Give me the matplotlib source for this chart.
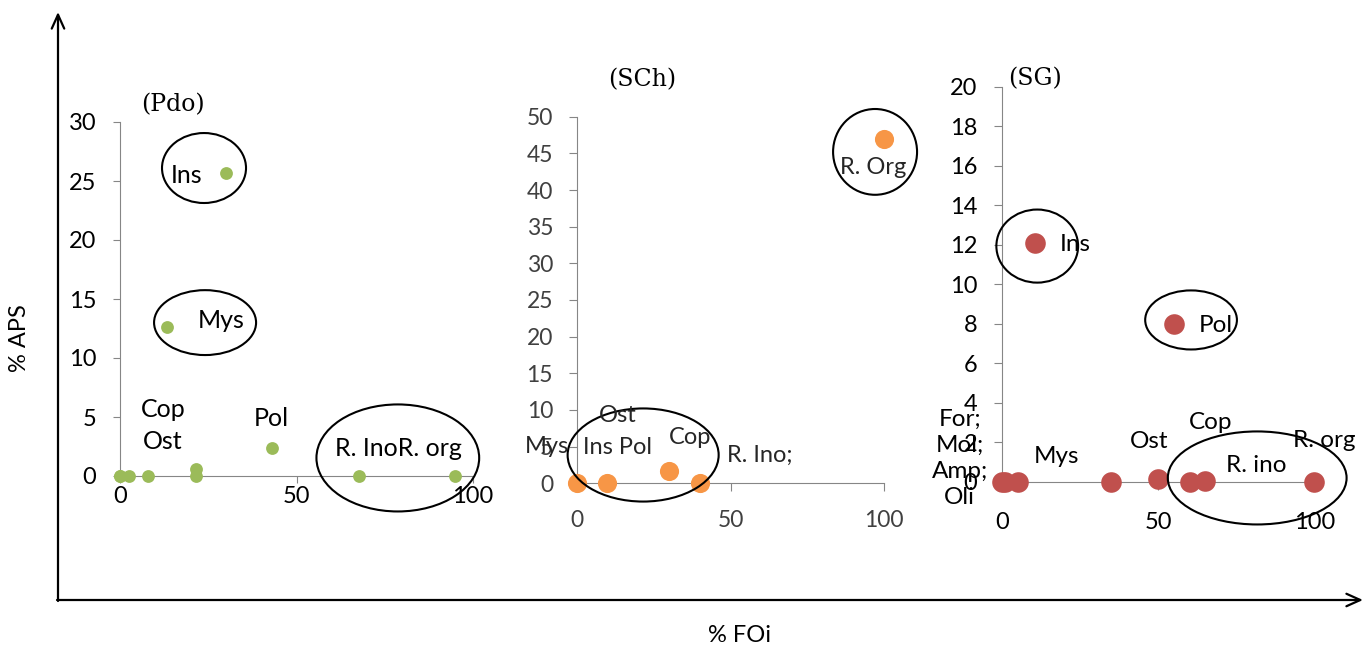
import matplotlib
matplotlib.use("Agg")
import matplotlib.pyplot as plt
from matplotlib.patches import Ellipse

W, H = 1366, 649

# ---------------- data ----------------
pdo_x = [0, 0, 2.6, 8, 21.5, 21.5, 43.2, 67.6, 94.8, 29.9, 13.4]
pdo_y = [0, 0, 0, 0, 0.6, 0, 2.4, 0, 0, 25.7, 12.6]
pdo_labels = ["Ins", "Mys", "Cop", "Ost", "Pol", "R. InoR. org"]

sch_x = [0, 10, 30, 40, 100]
sch_y = [0, 0, 1.7, 0, 47]
sch_labels = ["Mys", "Ost", "Ins Pol", "Cop", "R. Ino;", "R. Org"]

sg_x = [0, 1, 5, 35, 50, 60, 65, 100, 10.5, 55]
sg_y = [0, 0, 0, 0, 0.15, 0, 0.05, 0, 12.1, 8]
sg_labels = ["For;\nMol;\nAmp;\nOli", "Mys", "Ost", "Cop", "R. org", "R. ino", "Ins", "Pol"]

pdo_yticks = [0, 5, 10, 15, 20, 25, 30]
sch_yticks = [0, 5, 10, 15, 20, 25, 30, 35, 40, 45, 50]
sg_yticks = [0, 2, 4, 6, 8, 10, 12, 14, 16, 18, 20]
x_ticks = [0, 50, 100]

titles = ["(Pdo)", "(SCh)", "(SG)"]
xlabel = "% FOi"
ylabel = "% APS"

plt.rcParams['font.family'] = ['Lato', 'DejaVu Sans']

fig = plt.figure(figsize=(W / 100, H / 100), dpi=100)

# overlay for big arrows
ov = fig.add_axes([0, 0, 1, 1], zorder=0)
ov.set_xlim(0, W)
ov.set_ylim(H, 0)
ov.axis('off')
arrow_kw = dict(arrowstyle='->,head_length=1.0,head_width=0.45', lw=1.6, color='black',
                shrinkA=0, shrinkB=0)
ov.annotate('', xy=(58, 12), xytext=(58, 601), arrowprops=arrow_kw)
ov.annotate('', xy=(1363, 600), xytext=(57, 600), arrowprops=arrow_kw)
ov.text(20, 338, ylabel, rotation=90, ha='center', va='center', fontsize=17)
ov.text(740, 636, xlabel, ha='center', va='center', fontsize=17)


def px_axes(x0, x1, y0, y1):
    # x0,x1: pixel x of data 0 and max; y0: pixel y of 0, y1: pixel y of max
    return fig.add_axes([x0 / W, (H - y0) / H, (x1 - x0) / W, (y0 - y1) / H], zorder=2)


def style(ax, yt, ymax, tlen, ypad, xpad, tickcolor='black', fs=17):
    ax.set_xlim(0, 100)
    ax.set_ylim(0, ymax)
    ax.set_xticks(x_ticks)
    ax.set_yticks(yt)
    ax.patch.set_alpha(0)
    for s in ['top', 'right']:
        ax.spines[s].set_visible(False)
    for s in ['left', 'bottom']:
        ax.spines[s].set_color('#868686')
        ax.spines[s].set_linewidth(0.8)
    ax.tick_params(axis='both', direction='out', length=tlen, width=0.8,
                   color='#868686', labelsize=fs, labelcolor=tickcolor)
    ax.tick_params(axis='y', pad=ypad)
    ax.tick_params(axis='x', pad=xpad)


def ell(ax, cx, cy, w, h):
    ax.add_patch(Ellipse((cx, cy), w, h, fill=False, edgecolor='black', lw=1.5,
                         clip_on=False, zorder=4))


# ---------------- panel 1 (Pdo) ----------------
ax1 = px_axes(120, 473, 476, 122)
style(ax1, pdo_yticks, 30, 5, 12, 2)
ax1.scatter(pdo_x, pdo_y, s=85, color='#9BBB59', clip_on=False, zorder=3, linewidths=0)
lab_pos1 = [(18.9, 25.5), (28.6, 13.2), (12.2, 5.6), (12.2, 2.9), (43.0, 4.9), (79.0, 2.3)]
for t, (x, y) in zip(pdo_labels, lab_pos1):
    ax1.text(x, y, t, ha='center', va='center', fontsize=18, zorder=5, clip_on=False)
ell(ax1, 23.8, 26.1, 23.8, 5.93)
ell(ax1, 24.1, 13.0, 28.9, 5.5)
ell(ax1, 78.7, 1.53, 46.1, 9.07)

# ---------------- panel 2 (SCh) ----------------
ax2 = px_axes(576.7, 884.3, 483.3, 116.7)
style(ax2, sch_yticks, 50, 6, 11, 13, tickcolor='#404040', fs=16.5)
ax2.scatter(sch_x, sch_y, s=190, color='#F79646', clip_on=False, zorder=3, linewidths=0)
lab_pos2 = [(-9.75, 5.0), (13.4, 9.3), (13.4, 4.95), (36.8, 6.2), (59.6, 3.86), (96.3, 43.1)]
for t, (x, y) in zip(sch_labels, lab_pos2):
    ax2.text(x, y, t, ha='center', va='center', fontsize=17, color='#262626',
             zorder=5, clip_on=False)
ell(ax2, 21.6, 3.86, 49.1, 12.7)
ell(ax2, 97.0, 45.2, 27.3, 11.7)

# ---------------- panel 3 (SG) ----------------
ax3 = px_axes(1002.3, 1314.3, 481.7, 86.7)
style(ax3, sg_yticks, 20, 6, 12, 16)
ax3.scatter(sg_x, sg_y, s=220, color='#C0504D', clip_on=False, zorder=3, linewidths=0)
lab_pos3 = [(-13.6, 1.2), (17.4, 1.3), (47.0, 2.03), (66.8, 3.0), (103.3, 2.1),
            (81.5, 0.8), (23.3, 12.03), (68.5, 7.9)]
for t, (x, y) in zip(sg_labels, lab_pos3):
    ax3.text(x, y, t, ha='center', va='center', fontsize=17.5, zorder=5,
             clip_on=False, linespacing=1.3)
ell(ax3, 11.2, 11.93, 26.2, 3.70)
ell(ax3, 60.5, 8.19, 29.4, 2.99)
ell(ax3, 81.7, 0.19, 57.3, 4.71)

# titles
for t, (x, y) in zip(titles, [(173, 105), (641.7, 80), (1035, 79)]):
    ov.text(x, y, t, ha='center', va='center', fontsize=17, family='DejaVu Serif')

fig.savefig('out.png', dpi=100)
